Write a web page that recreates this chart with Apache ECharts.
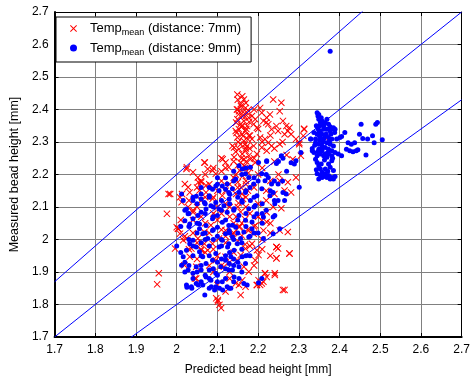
<!DOCTYPE html>
<html>
<head>
<meta charset="utf-8">
<script src="https://cdn.jsdelivr.net/npm/echarts@6/dist/echarts.min.js"></script>
<style>
  html, body { margin: 0; padding: 0; background: #fff; }
  #chart { width: 473px; height: 381px; }
</style>
</head>
<body>
<div id="chart"></div>
<script>
// axis range
const axisMin = 1.7
const axisMax = 2.7

// reference lines y = k * x
const refSlopes = [1.1, 1.0, 0.9]

// Temp_mean (distance: 7mm)
const red7mm = [
  [2.161,2.441],[2.165,2.431],[2.157,2.416],[2.169,2.405],[2.153,2.395],[2.173,2.390],[2.161,2.380],[2.177,2.375],
  [2.149,2.370],[2.165,2.365],[2.157,2.355],[2.173,2.349],[2.153,2.339],[2.169,2.334],[2.161,2.324],[2.177,2.319],
  [2.149,2.314],[2.165,2.303],[2.157,2.293],[2.173,2.288],[2.153,2.278],[2.169,2.273],[2.161,2.263],[2.177,2.258],
  [2.165,2.247],[2.157,2.237],[2.141,2.253],[2.137,2.288],[2.145,2.334],[2.185,2.380],[2.193,2.370],[2.189,2.355],
  [2.197,2.344],[2.205,2.405],[2.209,2.390],[2.213,2.365],[2.221,2.375],[2.225,2.355],[2.229,2.385],[2.233,2.339],
  [2.237,2.431],[2.245,2.349],[2.249,2.334],[2.253,2.395],[2.257,2.421],[2.261,2.365],[2.265,2.324],[2.269,2.349],
  [2.273,2.334],[2.277,2.344],[2.281,2.324],[2.253,2.293],[2.233,2.288],[2.221,2.273],[2.209,2.283],[2.197,2.263],
  [2.189,2.288],[2.185,2.309],[2.205,2.314],[2.217,2.309],[2.225,2.298],[2.181,2.247],[2.193,2.237],[2.293,2.309],
  [2.305,2.258],[2.313,2.339],[2.285,2.247],[2.149,2.446],[2.141,2.283],[2.301,2.298],[2.293,2.191],[2.365,2.314],
  [2.313,2.341],[2.311,2.319],[2.301,2.293],
  [2.068,2.237],[2.076,2.217],[2.088,2.212],[2.096,2.202],[2.120,2.237],[2.128,2.222],[2.024,2.217],[2.040,2.207],
  [2.052,2.191],[2.060,2.176],[2.072,2.166],[2.020,2.171],[2.028,2.161],[2.032,2.145],[2.056,2.151],[2.072,2.145],
  [2.008,2.130],[2.012,2.115],[1.984,2.140],[1.976,2.079],[2.028,2.100],[2.040,2.084],[2.088,2.125],[2.112,2.135],
  [2.000,2.038],[2.084,2.044],[2.096,2.074],[2.025,2.222],[2.069,2.237],[2.113,2.247],
  [2.003,2.033],[1.980,2.140],[1.956,1.896],[1.952,1.862],[1.996,1.972],[2.019,1.921],[2.045,1.880],[2.101,1.814],
  [2.109,1.789],[2.157,1.829],[2.013,2.140],[2.053,2.176],
  [2.004,2.033],[2.008,2.018],[2.016,1.998],[2.032,1.947],[2.048,1.916],[2.048,1.880],[2.036,1.972],[2.060,1.967],
  [2.068,1.987],[2.076,1.967],[2.088,1.987],[2.104,2.003],[2.120,2.028],[2.096,1.936],[2.120,1.947],[2.068,2.023],
  [2.024,2.003],[2.052,2.003],[2.116,1.916],
  [2.097,1.819],[2.101,1.809],[2.105,1.799],[2.153,1.860],[2.169,1.855],[2.197,1.860],[2.209,1.865],
  [2.245,1.977],[2.277,1.957],[2.245,1.942],[2.241,1.896],[2.217,1.896],[2.221,1.885],[2.201,1.875],[2.205,1.860],
  [2.265,1.845],[2.197,1.967],[2.201,1.952],[2.193,1.936],[2.185,1.987],[2.177,2.028],[2.189,2.018],[2.169,1.972],
  [2.157,1.952],[2.149,1.936],[2.165,1.916],[2.177,1.901],[2.161,1.875],[2.145,1.865],[2.153,2.038],[2.137,2.018],
  [2.193,2.043],
  [2.253,2.181],[2.273,2.176],[2.265,2.151],[2.281,2.145],[2.237,2.100],[2.257,2.096],[2.221,2.084],[2.253,2.028],
  [2.273,2.023],[2.213,2.028],[2.245,1.977],[2.249,1.972],[2.277,1.957],[2.245,1.942],[2.241,1.891],[2.217,1.896],
  [2.213,1.870],[2.197,1.860],[2.261,1.845],[2.209,2.059],[2.221,2.054],
  [2.05,2.10],[2.07,2.05],[2.09,2.08],[2.11,2.03],[2.13,2.07],[2.15,2.10],[2.17,2.13],[2.19,2.16],[2.06,1.97],
  [2.08,1.92],[2.10,1.95],[2.12,1.99],[2.14,2.02],[2.16,2.05],[2.18,2.08],[2.20,2.11],[2.04,2.02],[2.03,1.97],
  [2.10,2.10],[2.12,2.15],[2.14,2.19],[2.16,2.22],[2.17,2.18],[2.15,2.16],[2.16,2.14],[2.17,2.28],[2.16,2.35],
  [2.15,2.40],[2.18,2.32],[2.18,2.22],[2.11,2.18],[2.13,1.93],[2.09,1.90],[2.07,2.13],[2.19,2.04],[2.21,2.00],
  [2.22,2.15],[2.20,2.20],[2.24,2.24],[2.23,2.05],[2.06,2.18],[2.01,2.06],[2.05,1.94],[2.13,1.88],[2.18,1.98],
  [2.12,2.22],
  [2.150,2.430],[2.170,2.420],[2.158,2.410],[2.148,2.400],[2.175,2.398],[2.163,2.392],[2.152,2.385],[2.168,2.378],
  [2.146,2.360],[2.178,2.362],[2.159,2.346],[2.171,2.340],[2.147,2.328],[2.163,2.318],[2.175,2.308],[2.151,2.300],
  [2.167,2.292],[2.145,2.270],[2.179,2.280],[2.159,2.250],[2.171,2.240],[2.150,2.228],[2.166,2.226],[2.155,2.212],
  [2.176,2.205],[2.145,2.200],[2.162,2.195],[2.170,2.170],[2.150,2.176],[2.158,2.160],[2.175,2.150],[2.146,2.140],
  [2.163,2.125],[2.152,2.112],[2.170,2.100],[2.157,2.085],[2.146,2.070],[2.168,2.062],[2.155,2.040],[2.174,2.030],
  [2.160,2.012],[2.150,1.995],[2.168,1.985],
  [2.19,2.40],[2.20,2.34],[2.21,2.30],[2.23,2.32],[2.24,2.28],[2.22,2.36],[2.26,2.30],[2.27,2.26],[2.19,2.25],
  [2.21,2.22],[2.23,2.18],[2.25,2.20],[2.24,2.14],[2.22,2.12],[2.20,2.07],[2.23,2.02],[2.21,1.97],[2.19,1.92],
  [2.23,1.95],[2.11,2.25],[2.09,2.22],[2.07,2.20],[2.05,2.16],[2.03,2.12],[2.08,2.17],[2.10,2.15],[2.12,2.11],
  [2.10,2.06],[2.08,2.02],[2.06,2.07],[2.04,2.06],[2.02,2.01],[2.05,1.99],[2.07,1.96],[2.09,1.97],[2.11,1.92],
  [2.13,1.90],[2.10,1.86],[2.12,1.84],[2.14,1.96],[2.12,2.01],[2.14,2.05],[2.13,2.10],[2.11,2.08],[2.09,2.13],
  [2.13,2.17],[2.11,2.21],[2.14,2.24],[2.06,2.12],[2.04,2.09]
]

// Temp_mean (distance: 9mm)
const blue9mm = [
  [2.345,2.390],[2.347,2.380],[2.349,2.370],[2.353,2.360],[2.357,2.365],[2.351,2.349],[2.361,2.355],[2.365,2.360],
  [2.369,2.370],[2.373,2.355],[2.377,2.347],[2.381,2.341],[2.385,2.344],[2.389,2.339],[2.388,2.329],[2.377,2.334],
  [2.369,2.339],[2.361,2.339],[2.353,2.334],[2.349,2.329],[2.345,2.324],[2.357,2.324],[2.365,2.319],[2.373,2.314],
  [2.381,2.309],[2.393,2.309],[2.401,2.314],[2.405,2.317],[2.413,2.329],[2.421,2.298],[2.429,2.293],[2.437,2.298],
  [2.441,2.273],[2.445,2.276],[2.433,2.270],[2.425,2.273],[2.417,2.278],[2.405,2.258],[2.397,2.263],[2.389,2.268],
  [2.381,2.273],[2.373,2.278],[2.365,2.283],[2.357,2.288],[2.349,2.293],[2.341,2.298],[2.333,2.280],[2.337,2.268],
  [2.341,2.247],[2.345,2.237],[2.349,2.227],[2.353,2.217],[2.357,2.207],[2.365,2.202],[2.373,2.197],[2.381,2.191],
  [2.389,2.194],[2.385,2.186],[2.377,2.186],[2.369,2.191],[2.361,2.194],[2.353,2.198],[2.345,2.202],[2.349,2.186],
  [2.357,2.191],[2.365,2.217],[2.373,2.232],[2.381,2.242],[2.369,2.253],[2.361,2.258],[2.353,2.263],[2.345,2.258],
  [2.349,2.278],[2.357,2.273],[2.365,2.263],[2.373,2.263],[2.381,2.258],[2.377,2.222],[2.385,2.212],[2.453,2.355],
  [2.449,2.324],[2.457,2.311],[2.469,2.309],[2.481,2.319],[2.485,2.298],[2.489,2.355],[2.493,2.360],[2.505,2.307],
  [2.465,2.260],[2.361,2.309],[2.369,2.298],[2.377,2.293],[2.385,2.288],[2.361,2.349],[2.355,2.375],[2.349,2.385],
  [2.341,2.309],[2.337,2.329],[2.329,2.309],[2.353,2.314],[2.347,2.341],[2.377,2.579],
  [2.343,2.350],[2.351,2.318],[2.359,2.300],[2.347,2.270],[2.363,2.245],[2.355,2.232],[2.371,2.210],[2.343,2.215],
  [2.367,2.325],[2.379,2.325],[2.375,2.302],[2.351,2.305],[2.359,2.283],[2.371,2.268],[2.383,2.250],[2.339,2.290],
  [2.012,2.140],[2.016,2.120],[2.040,2.120],[2.048,2.133],[2.060,2.125],[2.068,2.114],[2.080,2.135],[2.088,2.155],
  [2.096,2.165],[2.104,2.150],[2.112,2.165],[2.120,2.155],[2.124,2.171],[2.128,2.145],[2.024,2.094],[2.028,2.079],
  [2.020,2.058],[2.032,2.048],[2.040,2.064],[2.052,2.074],[2.060,2.084],[2.072,2.094],[2.084,2.104],[2.096,2.114],
  [2.104,2.094],[2.116,2.104],[2.124,2.084],[2.088,2.064],[2.100,2.074],[2.112,2.053],[2.072,2.043],[2.056,2.048],
  [2.128,2.043],
  [2.012,1.921],[2.016,1.947],[2.024,1.967],[2.032,1.987],[2.040,1.998],[2.048,1.977],[2.056,1.962],[2.064,1.947],
  [2.072,1.926],[2.080,1.906],[2.088,1.936],[2.096,1.957],[2.104,1.977],[2.112,1.998],[2.120,2.018],[2.128,1.987],
  [2.028,1.906],[2.040,1.896],[2.048,1.916],[2.060,1.906],[2.072,1.885],[2.084,1.875],[2.096,1.896],[2.108,1.916],
  [2.120,1.936],[2.128,1.906],[2.024,1.860],[2.036,1.855],[2.048,1.865],[2.064,1.860],[2.080,1.850],[2.096,1.855],
  [2.112,1.870],[2.124,1.855],[2.088,2.028],[2.100,2.038],[2.076,2.003],[2.064,2.018],[2.056,2.033],
  [2.025,1.853],[2.037,1.850],[2.053,1.860],[2.069,1.829],[2.085,1.855],[2.093,1.845],[2.105,1.850],[2.113,1.845],
  [2.129,1.850],
  [2.153,2.227],[2.161,2.217],[2.181,2.222],[2.201,2.237],[2.221,2.242],[2.209,2.202],[2.217,2.181],[2.225,2.191],
  [2.233,2.171],[2.237,2.145],[2.249,2.171],[2.261,2.145],[2.269,2.140],[2.265,2.120],[2.289,2.232],[2.293,2.242],
  [2.301,2.161],[2.249,2.120],[2.241,2.110],[2.229,2.135],[2.209,2.156],[2.197,2.135],[2.189,2.171],[2.177,2.191],
  [2.169,2.202],[2.145,2.186],[2.137,2.156],[2.129,2.125],[2.141,2.095],[2.153,2.074],[2.169,2.059],[2.185,2.054],
  [2.197,2.079],[2.213,2.069],[2.237,2.069],[2.241,2.074],[2.137,2.044],[2.177,2.095],[2.161,2.115],[2.193,2.105],
  [2.153,2.145],[2.169,2.145],[2.181,2.120],
  [2.129,2.028],[2.137,2.008],[2.145,2.038],[2.157,2.003],[2.165,2.023],[2.177,2.008],[2.185,2.033],[2.213,2.003],
  [2.237,2.018],[2.253,2.033],[2.125,1.977],[2.133,1.947],[2.129,1.926],[2.137,1.906],[2.141,1.885],[2.153,1.880],
  [2.165,1.865],[2.173,1.860],[2.133,1.850],[2.201,1.867],[2.209,1.880],[2.161,1.947],[2.169,1.926],[2.153,1.916],
  [2.149,1.987],[2.141,1.967],
  [2.221,2.240],[2.257,2.258],[2.261,2.250],[2.281,2.236],[2.305,2.268],[2.329,2.309],[2.333,2.273],[2.245,2.234],
  [2.05,2.05],[2.07,2.02],[2.09,2.00],[2.11,1.98],[2.13,1.96],[2.06,1.99],[2.08,1.95],[2.10,1.93],[2.12,1.91],
  [2.14,2.00],[2.16,1.97],[2.18,1.95],[2.15,2.06],[2.17,2.08],[2.19,2.10],[2.07,2.08],[2.09,2.10],[2.11,2.12],
  [2.13,2.14],[2.03,2.00],[2.04,1.95],[2.02,1.93],[2.06,1.92],[2.10,1.89],[2.14,1.92],[2.16,1.90],[2.05,2.11],
  [2.08,2.13],[2.12,2.06],[2.14,2.09],[2.16,2.12],[2.18,2.16],[2.20,2.18],[2.19,2.02],[2.21,2.05],[2.22,2.09],
  [2.24,2.12],[2.26,2.18],[2.00,1.98],[2.01,2.04],[2.03,2.08],[2.06,2.16],[2.10,2.19],[2.14,2.18],[2.16,2.20],
  [2.02,1.90],[2.04,1.88],[2.06,1.87],[2.08,1.88],[2.10,1.87],[2.12,1.88],[2.14,1.87],[2.15,1.93],[2.17,1.95],
  [2.16,1.99],[2.18,2.01],[2.20,2.02],[2.17,2.04],[2.15,2.02],[2.13,2.02],[2.11,2.00],[2.09,2.03],[2.07,2.00],
  [2.05,2.02],[2.03,2.04],[2.02,2.09],[2.04,2.13],[2.07,2.11],[2.09,2.07],[2.11,2.09],[2.13,2.11],[2.15,2.13],
  [2.17,2.15],[2.19,2.13],[2.21,2.11],[2.23,2.15],[2.19,2.19],[2.17,2.22],[2.14,2.21],[2.12,2.19],[2.10,2.17],
  [2.08,2.16],[2.06,2.14],[2.22,2.20],[2.24,2.18],[2.27,2.21],[2.25,2.24],[2.19,2.07],[2.21,2.08],[2.04,1.98],
  [2.06,1.95],[2.08,1.98],[2.10,2.01],[2.12,1.95],[2.14,1.94],[2.01,1.96],[2.03,1.92],[2.05,1.90],[2.07,1.89],
  [2.09,1.91],[2.11,1.94]
]

const seriesNames = ['Temp_mean (distance: 7mm)', 'Temp_mean (distance: 9mm)']
const crossIcon = 'path://M0,1L1,0L5,4L9,0L10,1L6,5L10,9L9,10L5,6L1,10L0,9L4,5Z'
const textFont = 'Liberation Sans, Arial, sans-serif'

const chart = echarts.init(document.getElementById('chart'), null, { renderer: 'canvas' })

const lineSeries = refSlopes.map(k => ({
  type: 'line',
  data: [[axisMin, axisMin * k], [axisMax, axisMax * k]],
  symbol: 'none',
  clip: true,
  silent: true,
  z: 5,
  lineStyle: { color: '#0000ff', width: 1 }
}))

chart.setOption({
  animation: false,
  textStyle: { fontFamily: textFont, color: '#000' },
  grid: { left: 50, right: 7, top: 12, bottom: 42 },
  legend: {
    left: 56,
    top: 17,
    orient: 'vertical',
    width: 196,
    padding: [5, 10, 5, 14],
    itemGap: 4,
    itemWidth: 7,
    itemHeight: 7,
    backgroundColor: '#fff',
    borderColor: '#000',
    borderWidth: 1,
    data: [
      { name: seriesNames[0], icon: crossIcon },
      { name: seriesNames[1], icon: 'circle' }
    ],
    formatter: name => {
      const d = name.split('(')[1]
      return '{a|Temp}{s|mean}{a| (' + d + '}'
    },
    textStyle: {
      padding: [0, 0, 0, 8],
      rich: {
        a: { fontSize: 13, fontFamily: textFont, color: '#000', height: 18 },
        s: { fontSize: 9, fontFamily: textFont, color: '#000', padding: [9, 0, 0, 0] }
      }
    }
  },
  xAxis: [{
    type: 'value',
    min: axisMin,
    max: axisMax,
    interval: 0.1,
    name: 'Predicted bead height [mm]',
    nameLocation: 'middle',
    nameGap: 27,
    nameTextStyle: { fontSize: 12, fontFamily: textFont, color: '#000' },
    axisLine: { lineStyle: { color: '#000', width: 2 } },
    axisTick: { inside: true, length: 4, lineStyle: { color: '#000' } },
    axisLabel: { fontSize: 12, color: '#000', margin: 7 },
    splitLine: { show: true, lineStyle: { color: '#808080', width: 1 } }
  }, {
    type: 'value',
    position: 'top',
    min: axisMin,
    max: axisMax,
    interval: 0.1,
    axisLine: { lineStyle: { color: '#000', width: 1 } },
    axisTick: { inside: true, length: 4, lineStyle: { color: '#000' } },
    axisLabel: { show: false },
    splitLine: { show: false }
  }],
  yAxis: [{
    type: 'value',
    min: axisMin,
    max: axisMax,
    interval: 0.1,
    name: 'Measured bead height [mm]',
    nameLocation: 'middle',
    nameGap: 33,
    nameTextStyle: { fontSize: 12.5, fontFamily: textFont, color: '#000' },
    axisLine: { show: true, lineStyle: { color: '#000', width: 2 } },
    axisTick: { show: true, inside: true, length: 4, lineStyle: { color: '#000' } },
    axisLabel: { fontSize: 12, color: '#000', margin: 6 },
    splitLine: { show: true, lineStyle: { color: '#808080', width: 1 } }
  }, {
    type: 'value',
    position: 'right',
    min: axisMin,
    max: axisMax,
    interval: 0.1,
    axisLine: { show: true, lineStyle: { color: '#000', width: 1 } },
    axisTick: { show: true, inside: true, length: 4, lineStyle: { color: '#000' } },
    axisLabel: { show: false },
    splitLine: { show: false }
  }],
  series: [
    {
      name: seriesNames[0],
      type: 'scatter',
      data: red7mm,
      symbol: crossIcon,
      symbolSize: 7,
      itemStyle: { color: '#ff0000', opacity: 1 },
      z: 2
    },
    {
      name: seriesNames[1],
      type: 'scatter',
      data: blue9mm,
      symbol: 'circle',
      symbolSize: 5,
      itemStyle: { color: '#0000ff', opacity: 1 },
      z: 3
    }
  ].concat(lineSeries)
})
</script>
</body>
</html>
